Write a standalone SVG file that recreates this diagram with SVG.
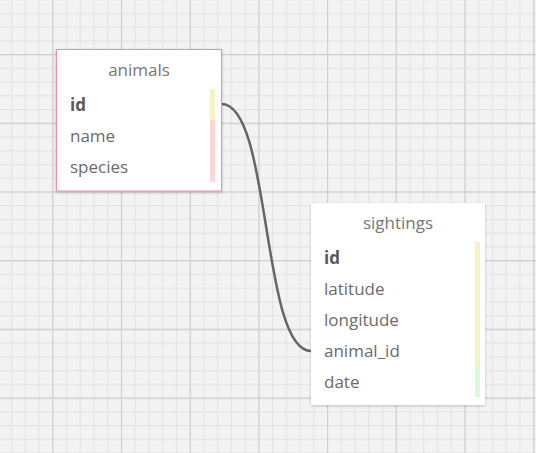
<svg xmlns="http://www.w3.org/2000/svg" width="536" height="453" viewBox="0 0 536 453">
<style>
.t{font-family:"Open Sans","DejaVu Sans",sans-serif;font-size:17px;fill:#6b6b6b}
.ti{text-anchor:middle;fill:#777}
.b{font-weight:bold;fill:#5a5a5a}
.box{fill:#fff}
</style>
<defs>
<pattern id="minor" patternUnits="userSpaceOnUse" x="10.98" y="12.78" width="13.74" height="13.74">
<path d="M0,0.5H13.74M0.5,0V13.74" stroke="#e4e4e4" stroke-width="1.3" fill="none"/>
</pattern>
<pattern id="major" patternUnits="userSpaceOnUse" x="52.2" y="54" width="68.7" height="68.7">
<path d="M0,0.5H68.7M0.5,0V68.7" stroke="#cfcfcf" stroke-width="1.3" fill="none"/>
</pattern>
<filter id="sh" x="-10%" y="-10%" width="120%" height="120%">
<feDropShadow dx="0" dy="1" stdDeviation="1.5" flood-color="#000" flood-opacity="0.22"/>
</filter>
</defs>
<rect width="536" height="453" fill="#f3f3f3"/>
<rect width="536" height="453" fill="url(#minor)"/>
<rect width="536" height="453" fill="url(#major)"/>
<g id="connectors">
<path d="M221.5,104 C271.5,104 261,351 311,351" fill="none" stroke="#666" stroke-width="2.5"/>
</g>
<g id="animals">
<rect class="box" x="56.5" y="49.5" width="165" height="141.5" filter="url(#sh)" stroke="#f08cb2" stroke-width="1"/>
<text class="t ti" x="139" y="76">animals</text>
<text class="t b" x="70" y="111">id</text>
<text class="t" x="70" y="142">name</text>
<text class="t" x="70" y="173">species</text>
<rect x="210" y="89" width="5" height="31" fill="#f3f3c4"/>
<rect x="210" y="120" width="5" height="62" fill="#fdd6d6"/>
</g>
<g id="sightings">
<rect class="box" x="311" y="203" width="174" height="202" filter="url(#sh)"/>
<text class="t ti" x="398" y="229">sightings</text>
<text class="t b" x="324" y="264">id</text>
<text class="t" x="324" y="295">latitude</text>
<text class="t" x="324" y="326">longitude</text>
<text class="t" x="324" y="357">animal_id</text>
<text class="t" x="324" y="388">date</text>
<rect x="475" y="242" width="5" height="124" fill="#f3f3c4"/>
<rect x="475" y="366" width="5" height="31" fill="#d8fcd8"/>
</g>
</svg>
